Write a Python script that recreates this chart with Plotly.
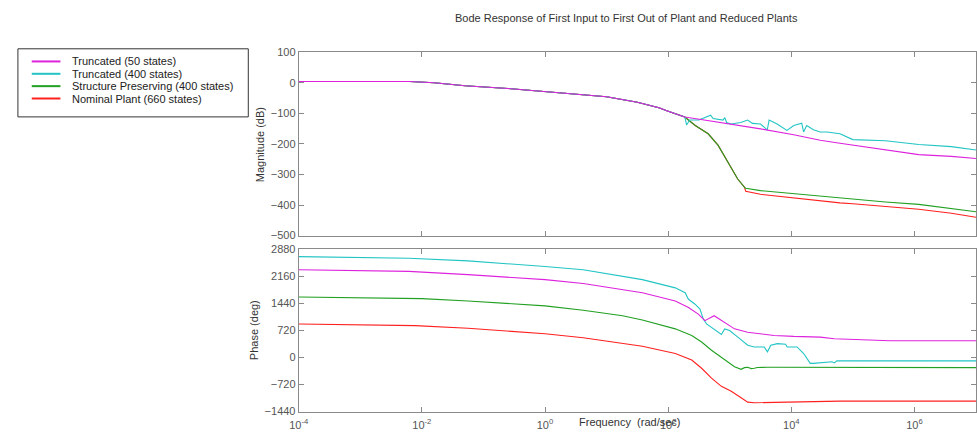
import plotly.graph_objects as go

# ---------------- data (log10 of frequency in rad/s, values) ----------------
# Magnitude (dB)
mag_common_logw = [-4, -2.2, -1.8, -1.3, -0.6, 0, 0.6, 1.0, 1.5, 1.85, 2.0, 2.17, 2.27]
mag_common_db = [4, 4, 0, -10, -19, -30, -40, -46, -64, -82, -93, -106, -112]

mag_trunc50_logw = [2.43, 2.97, 3.5, 4.04, 4.47, 4.79, 5.0, 5.53, 6.07, 6.6, 7]
mag_trunc50_db = [-117, -133, -151, -170, -188, -198, -204, -220, -235, -241, -248]

mag_trunc400_logw = [2.30, 2.35, 2.5, 2.57, 2.69, 2.73, 2.89, 2.92, 2.95, 3.02, 3.18, 3.29, 3.37,
                     3.5, 3.61, 3.64, 3.77, 3.93, 4.04, 4.17, 4.2, 4.25, 4.36, 4.47, 4.58, 4.79,
                     5.0, 5.53, 6.07, 6.6, 7]
mag_trunc400_db = [-138, -122, -122, -116, -106, -117, -122, -114, -130, -135, -130, -122, -133,
                   -135, -154, -122, -135, -156, -140, -132, -161, -140, -154, -161, -161, -167,
                   -186, -190, -202, -209, -220]

mag_drop_logw = [2.44, 2.65, 2.81, 2.92, 3.02, 3.13, 3.24]
mag_drop_db = [-140, -167, -204, -241, -278, -315, -342]

mag_struct_logw = [3.26, 3.5, 4.04, 4.47, 4.79, 5.0, 5.53, 6.07, 6.6, 7]
mag_struct_db = [-345, -353, -363, -370, -377, -380, -390, -398, -411, -422]

mag_nominal_logw = [3.26, 3.5, 4.04, 4.47, 4.79, 5.0, 5.53, 6.07, 6.6, 7]
mag_nominal_db = [-355, -365, -377, -388, -393, -396, -406, -414, -427, -440]

# Phase (deg)
ph_trunc50_logw = [-4, -2.96, -2.21, -1.25, -0.45, 0, 0.62, 1.26, 1.581, 2.116, 2.33, 2.49, 2.597,
                   2.747, 2.865, 3.078, 3.292, 3.72, 4.04, 4.47, 4.7, 5.1, 5.6, 7]
ph_trunc50_deg = [2333, 2315, 2289, 2202, 2114, 2071, 1966, 1808, 1721, 1503, 1328, 1154, 979,
                  1110, 979, 761, 673, 586, 560, 542, 499, 472, 446, 446]

ph_trunc400_logw = [-4, -3.23, -2.21, -1.25, -0.45, 0, 0.62, 1.26, 1.581, 2.116, 2.276, 2.33, 2.437,
                    2.517, 2.571, 2.624, 2.704, 2.865, 2.918, 2.998, 3.132, 3.292, 3.399, 3.56,
                    3.613, 3.667, 3.774, 3.907, 3.934, 4.094, 4.201, 4.308, 4.361, 4.575, 4.66,
                    4.70, 4.74, 7]
ph_trunc400_deg = [2682, 2665, 2638, 2568, 2481, 2420, 2333, 2159, 2071, 1852, 1721, 1547, 1416,
                   1285, 1023, 892, 804, 612, 761, 717, 542, 324, 280, 280,
                   149, 324, 368, 350, 280, 280, 106, -156, -156, -113, -113,
                   -145, -90, -90]

ph_struct_logw = [-4, -2.75, -2.0, -1.25, -0.45, 0, 0.62, 1.26, 1.581, 2.116, 2.383, 2.544, 2.704,
                  2.918, 3.078, 3.185, 3.24, 3.292, 3.35, 3.399, 3.45, 3.613, 7]
ph_struct_deg = [1608, 1590, 1564, 1503, 1416, 1372, 1258, 1111, 996, 761, 586, 411, 193,
                 -69, -244, -314, -270, -261, -295, -287, -265, -261, -270]

ph_nominal_logw = [-4, -2.64, -2.11, -1.25, -0.45, 0, 0.62, 1.26, 1.581, 2.116, 2.383, 2.544, 2.704,
                   2.865, 3.025, 3.185, 3.292, 3.399, 4.04, 4.789, 7]
ph_nominal_deg = [892, 874, 848, 778, 673, 630, 525, 367, 298, 106, -69, -287, -549,
                  -768, -899, -1073, -1187, -1204, -1187, -1161, -1161]

series_names = ["Truncated (50 states)", "Truncated (400 states)",
                "Structure Preserving (400 states)", "Nominal Plant (660 states)"]
series_colors = ["#dd22dd", "#22c4c4", "#22a022", "#ff2020"]

x_tick_exps = [-4, -2, 0, 2, 4, 6]
mag_ticks = [100, 0, -100, -200, -300, -400, -500]
phase_ticks = [2880, 2160, 1440, 720, 0, -720, -1440]

# ---------------- build series ----------------
mag_logw = [
    mag_common_logw + mag_trunc50_logw,
    mag_common_logw + mag_trunc400_logw,
    mag_common_logw + mag_drop_logw + mag_struct_logw,
    mag_common_logw + mag_drop_logw + mag_nominal_logw,
]
mag_vals = [
    mag_common_db + mag_trunc50_db,
    mag_common_db + mag_trunc400_db,
    mag_common_db + mag_drop_db + mag_struct_db,
    mag_common_db + mag_drop_db + mag_nominal_db,
]
ph_logw = [ph_trunc50_logw, ph_trunc400_logw, ph_struct_logw, ph_nominal_logw]
ph_vals = [ph_trunc50_deg, ph_trunc400_deg, ph_struct_deg, ph_nominal_deg]

W, H = 977, 440
FONT = "Liberation Sans, Arial, sans-serif"
GRAY = "#8a8a8a"
TXT = "#555555"

fig = go.Figure()
# draw in reverse so that magenta is on top like the reference
for i in [3, 2, 1, 0]:
    fig.add_trace(go.Scatter(x=[10 ** v for v in mag_logw[i]], y=mag_vals[i], mode="lines",
                             line=dict(color=series_colors[i], width=1.1), name=series_names[i],
                             xaxis="x", yaxis="y", showlegend=False, hoverinfo="skip"))
for i in [3, 2, 1, 0]:
    fig.add_trace(go.Scatter(x=[10 ** v for v in ph_logw[i]], y=ph_vals[i], mode="lines",
                             line=dict(color=series_colors[i], width=1.1), name=series_names[i],
                             xaxis="x2", yaxis="y2", showlegend=False, hoverinfo="skip"))

def px_x(p):
    return p / W

def px_y(p):
    return 1 - p / H

xdom = [px_x(292), 1.0]
common_x = dict(type="log", range=[-4, 7], showline=True, linecolor=GRAY, linewidth=1,
                mirror="ticks", ticks="inside", ticklen=5, tickcolor=GRAY, tickwidth=1,
                tickvals=[10 ** e for e in x_tick_exps], showgrid=False, zeroline=False,
                domain=xdom, tickfont=dict(family=FONT, size=11, color=TXT))
common_y = dict(showline=True, linecolor=GRAY, linewidth=1, mirror="ticks", ticks="inside",
                ticklen=5, tickcolor=GRAY, tickwidth=1, showgrid=False, zeroline=False,
                tickfont=dict(family=FONT, size=11, color=TXT))

fig.update_layout(
    width=W, height=H,
    margin=dict(l=0, r=0, t=0, b=0),
    paper_bgcolor="white", plot_bgcolor="white",
    showlegend=False,
    xaxis=dict(common_x, anchor="y", showticklabels=False),
    xaxis2=dict(common_x, anchor="y2", matches="x", ticklabelstandoff=3,
                ticktext=["10<sup>%d</sup>" % e for e in x_tick_exps]),
    yaxis=dict(common_y, range=[-500, 100], tickvals=mag_ticks,
               domain=[px_y(236), px_y(47.5)], anchor="x"),
    yaxis2=dict(common_y, range=[-1440, 2880], tickvals=phase_ticks,
                domain=[px_y(417), px_y(250)], anchor="x2"),
)

annotations = [
    dict(text="Bode Response of First Input to First Out of Plant and Reduced Plants",
         x=px_x(624), y=px_y(12), xref="paper", yref="paper", showarrow=False,
         font=dict(family=FONT, size=11, color="#333333"), xanchor="center", yanchor="middle"),
    dict(text="Frequency&nbsp; (rad/sec)", x=px_x(573), y=px_y(428), xref="paper", yref="paper",
         showarrow=False, font=dict(family=FONT, size=11, color="#333333"),
         xanchor="left", yanchor="middle"),
    dict(text="Magnitude (dB)", x=px_x(253), y=px_y(143), xref="paper", yref="paper",
         showarrow=False, textangle=-90, font=dict(family=FONT, size=11, color="#333333"),
         xanchor="center", yanchor="middle"),
    dict(text="Phase (deg)", x=px_x(247), y=px_y(333), xref="paper", yref="paper",
         showarrow=False, textangle=-90, font=dict(family=FONT, size=11, color="#333333"),
         xanchor="center", yanchor="middle"),
]

shapes = [dict(type="rect", xref="paper", yref="paper", x0=px_x(8), x1=px_x(241),
               y0=px_y(114), y1=px_y(44), line=dict(color="#333333", width=1),
               fillcolor="white", layer="above")]
legend_rows = [57, 69.7, 82.4, 95.1]
for i in range(4):
    yy = legend_rows[i]
    shapes.append(dict(type="line", xref="paper", yref="paper", x0=px_x(22), x1=px_x(51),
                       y0=px_y(yy), y1=px_y(yy),
                       line=dict(color=series_colors[i], width=2)))
    annotations.append(dict(text=series_names[i], x=px_x(61), y=px_y(yy), xref="paper",
                            yref="paper", showarrow=False, xanchor="left", yanchor="middle",
                            font=dict(family=FONT, size=11, color="#222222")))

fig.update_layout(annotations=annotations, shapes=shapes)
fig.write_html("out.html")
